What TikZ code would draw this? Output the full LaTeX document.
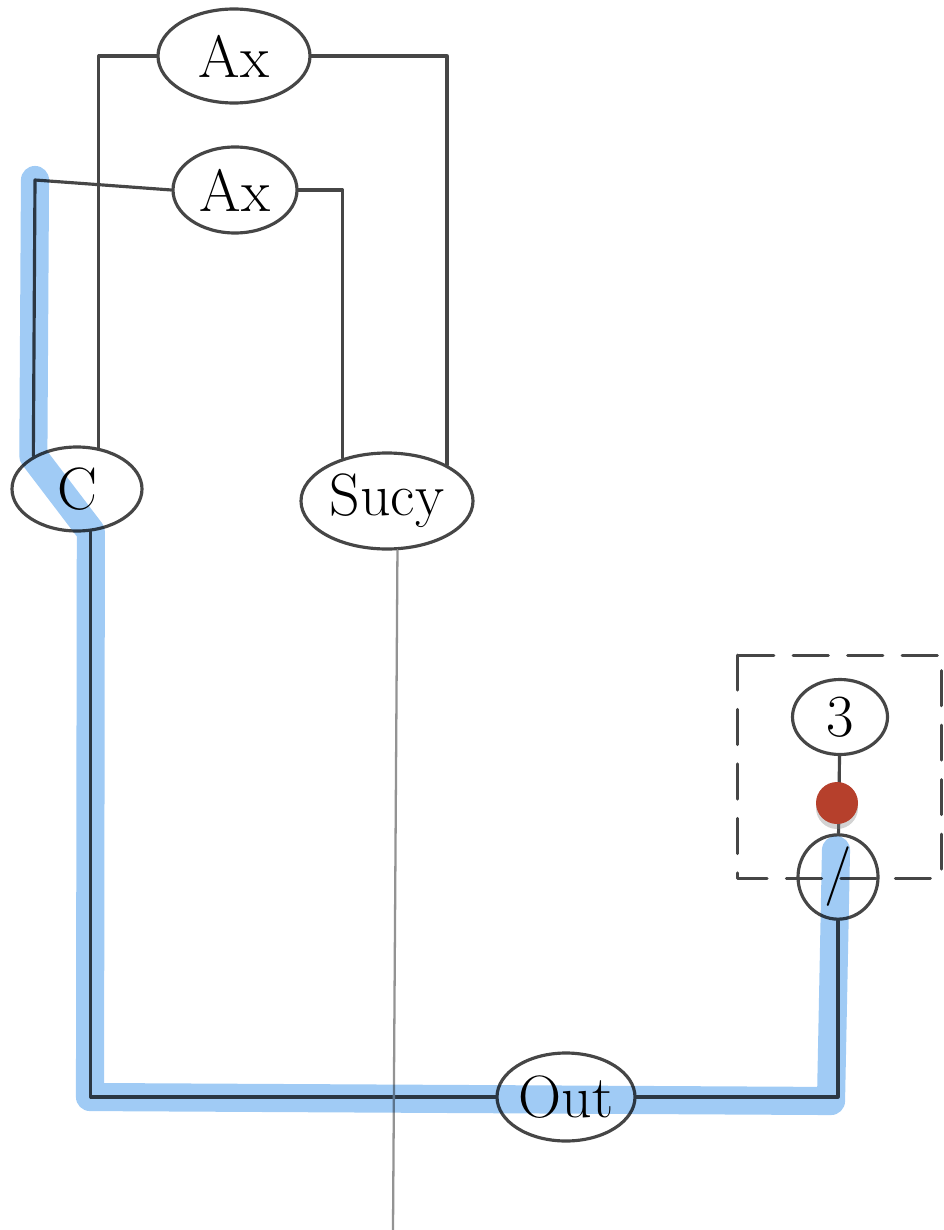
\documentclass[tikz,border=0pt]{standalone}
\usetikzlibrary{shapes.geometric,shadows}
\definecolor{pencil}{RGB}{70,70,70}
\definecolor{hilite}{RGB}{160,203,245}
\definecolor{brick}{RGB}{182,64,44}
\begin{document}
\begin{tikzpicture}[x=.2mm,y=-.2mm,line join=round,line cap=round,font=\fontsize{34}{40}\selectfont,
	term/.style={ellipse,draw=pencil,line width=1.8pt,inner sep=0pt},
	wire/.style={draw=pencil,line width=1.8pt}]
	\useasboundingbox (0,0) rectangle (943,1230);
	\foreach \n/\x/\y/\w/\h/\t in {ax1/234/56/30.4/18.8/Ax,ax2/235/190/24.8/17.2/Ax,c/77/489/26/16.8/C,sucy/387/501/34.4/19.2/Sucy,out/566/1097/27.6/17.6/Out,three/840/717/19/15/3,lam/838/877/16/14/\slash}
		\path(\x,\y)node[term,minimum width=\w mm,minimum height=\h mm](\n){\t};
	\coordinate (hl) at (35,180);
	\coordinate (bl) at (90,1097);
	\coordinate (br) at (831,1101);
	\coordinate (hlend) at (836,850);
	\coordinate (tail) at (393,1230);
	% wires
	\draw[wire] (ax1.west) -| (c.62);
	\draw[wire] (ax1.east) -| (sucy.31);
	\draw[wire] (ax2.west) -- (hl) -- (c.143);
	\draw[wire] (ax2.east) -| (sucy.136);
	\draw[wire] (c.-72) |- (out.west);
	\draw[wire] (out.east) -| (lam.south);
	\draw[wire] (three) -- (lam);
	\draw[draw=gray!85,line width=1.3pt] (sucy.-78) -- (tail);
	% box
	\draw[pencil,line width=1.7pt,dash pattern=on 20pt off 11pt] (737,655) rectangle (941,878);
	% highlight
	\begin{scope}[blend mode=multiply]
		\draw[hilite,line width=16pt] (hl) -- (c.143) -- (c.-72) -- (bl) -- (br) -- (hlend);
	\end{scope}
	\node[circle,fill=brick,minimum size=8.4mm,inner sep=0pt,drop shadow={opacity=.35,shadow xshift=0pt,shadow yshift=-1mm}] (dot) at (837,803) {};
\end{tikzpicture}
\end{document}
